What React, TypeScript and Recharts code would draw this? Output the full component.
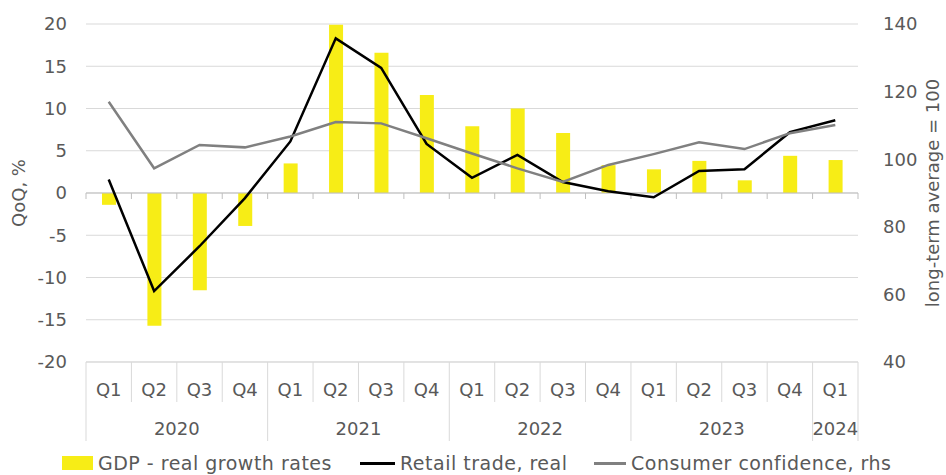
import {
  ComposedChart, Bar, Line, XAxis, YAxis, CartesianGrid, ReferenceLine, Legend,
} from "recharts";

const quarters = ["Q1", "Q2", "Q3", "Q4", "Q1", "Q2", "Q3", "Q4", "Q1", "Q2", "Q3", "Q4", "Q1", "Q2", "Q3", "Q4", "Q1"];
const years = ["2020", "2020", "2020", "2020", "2021", "2021", "2021", "2021", "2022", "2022", "2022", "2022", "2023", "2023", "2023", "2023", "2024"];
const gdpGrowth = [-1.4, -15.7, -11.5, -3.9, 3.5, 19.9, 16.6, 11.6, 7.9, 10.0, 7.1, 3.3, 2.8, 3.8, 1.5, 4.4, 3.9];
const retailTrade = [1.6, -11.6, -6.3, -0.6, 6.1, 18.3, 14.8, 5.8, 1.8, 4.5, 1.3, 0.2, -0.5, 2.6, 2.8, 7.2, 8.6];
const consumerConfidence = [117.0, 97.3, 104.2, 103.5, 106.7, 111.0, 110.6, 106.2, 101.7, 97.3, 93.3, 98.3, 101.5, 105.0, 103.0, 107.7, 110.1];
const leftTicks = [-20, -15, -10, -5, 0, 5, 10, 15, 20];
const rightTicks = [40, 60, 80, 100, 120, 140];

const W = 946;
const H = 475;
const LEFT_W = 86;
const RIGHT_W = 88;
const BAND = (W - LEFT_W - RIGHT_W) / quarters.length;
const FONT = "'DejaVu Sans', sans-serif";
const TEXT = "#595959";
const GRID = "#d9d9d9";

const data = quarters.map((q, i) => ({
  key: `${years[i]} ${q}`,
  gdp: gdpGrowth[i],
  retail: retailTrade[i],
  confidence: consumerConfidence[i],
}));

function CategoryTick(props: any) {
  const { x, y, payload, index } = props;
  const i = payload?.index ?? index;
  const bw = payload?.offset > 0 ? payload.offset * 2 : BAND;
  const left = x - bw / 2;
  const yearStart = i === 0 || years[i] !== years[i - 1];
  const span = years.filter((yr) => yr === years[i]).length;
  const isLast = i === quarters.length - 1;
  return (
    <g>
      <line x1={left} y1={y} x2={left} y2={y + (yearStart ? 79 : 40)} stroke={GRID} />
      {isLast && <line x1={left + bw} y1={y} x2={left + bw} y2={y + 79} stroke={GRID} />}
      <text x={x} y={y + 34} textAnchor="middle" fill={TEXT} fontSize={18} fontFamily={FONT}>
        {quarters[i]}
      </text>
      {yearStart && (
        <text x={left + (span * bw) / 2} y={y + 73} textAnchor="middle" fill={TEXT} fontSize={18} fontFamily={FONT}>
          {years[i]}
        </text>
      )}
    </g>
  );
}

function ZeroAxis(props: any) {
  const { x1, y1, x2 } = props;
  const step = (x2 - x1) / quarters.length;
  return (
    <g>
      <line x1={x1} y1={y1} x2={x2} y2={y1} stroke="#bfbfbf" strokeWidth={1} />
      {[...quarters, ""].map((_, i) => (
        <line key={i} x1={x1 + i * step} y1={y1} x2={x1 + i * step} y2={y1 + 6} stroke="#bfbfbf" />
      ))}
    </g>
  );
}

function LegendContent() {
  const item = (left: number, marker: any, label: string) => (
    <div style={{ position: "absolute", left, top: 10, display: "flex", alignItems: "center", height: 24 }}>
      {marker}
      <span style={{ fontFamily: FONT, fontSize: 19, letterSpacing: 0.5, lineHeight: "24px", color: TEXT, marginLeft: 5, whiteSpace: "nowrap" }}>{label}</span>
    </div>
  );
  return (
    <div style={{ position: "relative", height: 34, width: W }}>
      {item(62, <div style={{ width: 31, height: 14, background: "#f7ed16" }} />, "GDP - real growth rates")}
      {item(360, <div style={{ width: 35, height: 3, background: "#000" }} />, "Retail trade, real")}
      {item(594, <div style={{ width: 32, height: 3, background: "#808080" }} />, "Consumer confidence, rhs")}
    </div>
  );
}

export default function App() {
  return (
    <div style={{ position: "absolute", left: 0, top: 0, width: W, height: H, background: "#fff", overflow: "hidden" }}>
      <ComposedChart width={W} height={H} data={data} margin={{ top: 24, right: 0, bottom: 0, left: 0 }}>
        <CartesianGrid yAxisId="left" vertical={false} stroke={GRID} />
        <XAxis
          dataKey="key"
          interval={0}
          height={79}
          tickSize={0}
          tickMargin={0}
          tickLine={false}
          axisLine={{ stroke: GRID }}
          tick={<CategoryTick />}
        />
        <YAxis
          yAxisId="left"
          width={LEFT_W}
          domain={[-20, 20]}
          ticks={leftTicks}
          axisLine={false}
          tickLine={false}
          tickMargin={13}
          tick={{ fill: TEXT, fontSize: 18, fontFamily: FONT }}
          label={{ value: "QoQ, %", angle: -90, position: "insideLeft", dx: 14, fill: TEXT, fontSize: 18, fontFamily: FONT, style: { textAnchor: "middle" } }}
        />
        <YAxis
          yAxisId="right"
          orientation="right"
          width={RIGHT_W}
          domain={[40, 140]}
          ticks={rightTicks}
          axisLine={false}
          tickLine={false}
          tickMargin={19}
          tick={{ fill: TEXT, fontSize: 18, fontFamily: FONT }}
          label={{ value: "long-term average = 100", angle: -90, position: "insideRight", dx: -8, fill: TEXT, fontSize: 18, fontFamily: FONT, style: { textAnchor: "middle" } }}
        />
        <ReferenceLine yAxisId="left" y={0} shape={<ZeroAxis />} />
        <Bar yAxisId="left" dataKey="gdp" name="GDP - real growth rates" fill="#f7ed16" barSize={14} isAnimationActive={false} />
        <Line yAxisId="left" dataKey="retail" name="Retail trade, real" stroke="#000" strokeWidth={2.5} dot={false} isAnimationActive={false} />
        <Line yAxisId="right" dataKey="confidence" name="Consumer confidence, rhs" stroke="#808080" strokeWidth={2.5} dot={false} isAnimationActive={false} />
        <Legend verticalAlign="bottom" content={<LegendContent />} wrapperStyle={{ left: 0, width: W, height: 34 }} />
      </ComposedChart>
    </div>
  );
}
